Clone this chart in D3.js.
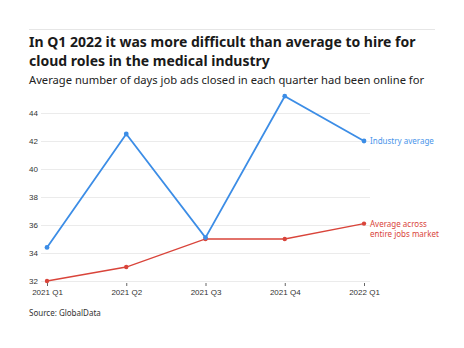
<!DOCTYPE html>
<html>
<head>
<meta charset="utf-8">
<script src="https://cdn.jsdelivr.net/npm/d3@7"></script>
<style>
  body { margin: 0; background: #fff; font-family: "Noto Sans", "Open Sans", sans-serif; }
  .grid line { stroke: #ebebeb; }
  .axis text { fill: #333; font-size: 8px; }
</style>
</head>
<body>
<div id="chart"></div>
<script>
// Chart data
const quarters = ['2021 Q1', '2021 Q2', '2021 Q3', '2021 Q4', '2022 Q1'];
const industryAvg = [34.4, 42.5, 35.1, 45.2, 42.0];
const marketAvg = [32, 33, 35, 35, 36.1];
const yTicks = [32, 34, 36, 38, 40, 42, 44];
const titleLines = [
  'In Q1 2022 it was more difficult than average to hire for',
  'cloud roles in the medical industry'
];

const width = 464, height = 348;

const svg = d3.select('#chart')
  .append('svg')
  .attr('width', width)
  .attr('height', height);

// Top rule
svg.append('line')
  .attr('x1', 29).attr('x2', 435)
  .attr('y1', 29.5).attr('y2', 29.5)
  .attr('stroke', '#e6e6e6');

// Titles (one text element per line)
svg.selectAll('.title-line')
  .data(titleLines)
  .enter()
  .append('text')
  .attr('class', 'title-line')
  .attr('x', 29)
  .attr('y', (d, i) => 47 + i * 19)
  .attr('font-size', '14px')
  .attr('font-weight', 'bold')
  .attr('fill', '#1a1a1a')
  .text(d => d);

svg.append('text')
  .attr('x', 29).attr('y', 84)
  .attr('font-size', '11.2px')
  .attr('fill', '#222')
  .text('Average number of days job ads closed in each quarter had been online for');

// Scales
const x = d3.scalePoint()
  .domain(quarters)
  .range([47, 364]);

const y = d3.scaleLinear()
  .domain([32, 44])
  .range([281, 113]);

// Gridlines
svg.append('g')
  .attr('class', 'grid')
  .selectAll('line')
  .data(yTicks)
  .enter()
  .append('line')
  .attr('x1', 41).attr('x2', 370)
  .attr('y1', d => y(d) + 0.5).attr('y2', d => y(d) + 0.5);

// Y axis
const yAxis = svg.append('g')
  .attr('class', 'axis')
  .attr('transform', 'translate(38, 0)')
  .call(d3.axisLeft(y).tickValues(yTicks).tickSize(0).tickPadding(0));
yAxis.select('.domain').remove();
yAxis.selectAll('text').attr('dy', '0.35em');

// X axis
const xAxis = svg.append('g')
  .attr('class', 'axis')
  .attr('transform', 'translate(0, 283)')
  .call(d3.axisBottom(x).tickSize(3).tickPadding(3));
xAxis.select('.domain').remove();
xAxis.selectAll('line').attr('stroke', '#666');

// Lines
const line = d3.line()
  .x((d, i) => x(quarters[i]))
  .y(d => y(d));

const series = [
  { values: marketAvg, color: '#d9443a', width: 1.3, r: 2.2 },
  { values: industryAvg, color: '#3c8de6', width: 1.8, r: 2.4 }
];

series.forEach(s => {
  svg.append('path')
    .datum(s.values)
    .attr('fill', 'none')
    .attr('stroke', s.color)
    .attr('stroke-width', s.width)
    .attr('d', line);

  svg.selectAll(null)
    .data(s.values)
    .enter()
    .append('circle')
    .attr('cx', (d, i) => x(quarters[i]))
    .attr('cy', d => y(d))
    .attr('r', s.r)
    .attr('fill', s.color);
});

// Series labels
svg.append('text')
  .attr('x', 370).attr('y', y(industryAvg[4]) + 3)
  .attr('font-size', '8px')
  .attr('fill', '#4a95ea')
  .text('Industry average');

const mLabel = svg.append('text')
  .attr('x', 370).attr('y', y(marketAvg[4]) + 3)
  .attr('font-size', '8px')
  .attr('fill', '#d9443a');
mLabel.append('tspan').attr('x', 370).text('Average across');
mLabel.append('tspan').attr('x', 370).attr('dy', 10).text('entire jobs market');

// Source
svg.append('text')
  .attr('x', 29).attr('y', 316)
  .attr('font-size', '8px')
  .attr('fill', '#333')
  .text('Source: GlobalData');
</script>
</body>
</html>
